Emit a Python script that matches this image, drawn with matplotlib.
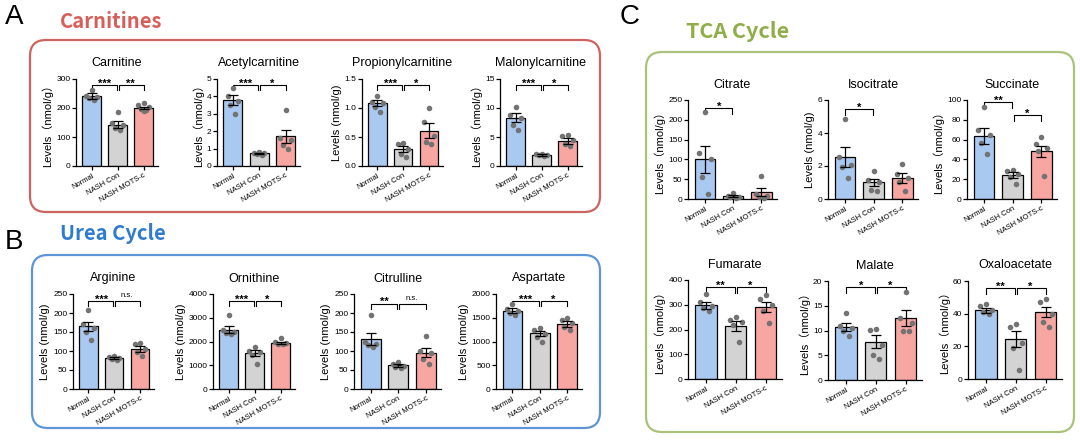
import matplotlib.pyplot as plt
from matplotlib.patches import FancyBboxPatch

plt.rcParams['font.family'] = ['Liberation Sans', 'Noto Sans CJK SC', 'DejaVu Sans']

W, H = 1080, 440

groups = ['Normal', 'NASH Con', 'NASH MOTS-c']
bar_colors = ['#a9c9f1', '#d3d3d3', '#f7a6a1']

# ---- Carnitines ----
carnitine_mean = [240, 143, 200]
carnitine_sem = [10, 11, 5]
carnitine_pts = [[262, 243, 238, 233, 228], [185, 147, 140, 130, 124], [216, 210, 204, 198, 194, 190]]

acetyl_mean = [3.8, 0.72, 1.7]
acetyl_sem = [0.27, 0.04, 0.38]
acetyl_pts = [[4.5, 4.0, 3.75, 3.5, 3.0], [0.8, 0.76, 0.72, 0.68, 0.63], [3.2, 1.6, 1.5, 1.2, 1.0]]

propionyl_mean = [1.08, 0.29, 0.61]
propionyl_sem = [0.05, 0.05, 0.13]
propionyl_pts = [[1.2, 1.1, 1.08, 1.02, 0.93], [0.4, 0.38, 0.3, 0.2, 0.15], [1.0, 0.75, 0.52, 0.42, 0.38]]

malonyl_mean = [8.3, 1.9, 4.3]
malonyl_sem = [0.8, 0.1, 0.5]
malonyl_pts = [[10.2, 8.8, 8.3, 7.0, 6.2], [2.1, 2.0, 1.9, 1.85, 1.75], [5.4, 5.2, 4.4, 3.8, 3.4]]

# ---- Urea cycle ----
arginine_mean = [165, 82, 105]
arginine_sem = [12, 2.5, 7]
arginine_pts = [[207, 172, 160, 150, 130], [88, 85, 82, 80, 77], [122, 118, 105, 98, 88]]

ornithine_mean = [2500, 1520, 1950]
ornithine_sem = [150, 120, 50]
ornithine_pts = [[3100, 2500, 2420, 2350, 2300], [1750, 1600, 1550, 1450, 1050], [2150, 2000, 1950, 1900, 1880]]

citrulline_mean = [132, 62, 96]
citrulline_sem = [16, 4, 12]
citrulline_pts = [[195, 125, 118, 115, 110], [72, 66, 60, 58, 55], [140, 100, 95, 80, 65]]

aspartate_mean = [1650, 1170, 1370]
aspartate_sem = [50, 60, 55]
aspartate_pts = [[1800, 1680, 1650, 1600, 1560], [1280, 1250, 1150, 1100, 1000], [1500, 1450, 1400, 1300, 1250]]

# ---- TCA cycle ----
citrate_mean = [100, 7, 17]
citrate_sem = [35, 3, 10]
citrate_pts = [[220, 115, 100, 55, 12], [15, 8, 6, 4, 3], [58, 12, 8, 5, 3]]

isocitrate_mean = [2.55, 1.0, 1.25]
isocitrate_sem = [0.6, 0.2, 0.3]
isocitrate_pts = [[4.85, 2.55, 2.05, 1.95, 1.25], [1.7, 1.15, 1.0, 0.55, 0.5], [2.1, 1.5, 1.3, 1.0, 0.5]]

succinate_mean = [64, 24, 48]
succinate_sem = [8, 3, 6]
succinate_pts = [[93, 70, 65, 57, 45], [29, 28, 25, 22, 15], [63, 56, 52, 48, 23]]

fumarate_mean = [298, 215, 290]
fumarate_sem = [15, 20, 20]
fumarate_pts = [[345, 310, 295, 285, 275], [250, 240, 230, 220, 150], [340, 325, 300, 275, 225]]

malate_mean = [10.8, 7.7, 12.5]
malate_sem = [0.8, 1.3, 1.6]
malate_pts = [[13.5, 11.0, 10.5, 10.0, 8.8], [10.3, 10.1, 7.0, 5.0, 4.2], [17.8, 12.5, 11.5, 10.0, 9.8]]

oxalo_mean = [42, 24.5, 41]
oxalo_sem = [1.5, 5, 3]
oxalo_pts = [[46, 44.5, 42, 41, 40], [33.5, 32, 22, 19, 5.5], [49, 47, 40, 35, 32]]

LBL = 'Levels (nmol/g)'
LBL_W = 'Levels（nmol/g）'

# title, mean, sem, points, y ticks, significance, ylabel, axes box in pixels (left, right, top, bottom)
panels = [
    ('Carnitine', carnitine_mean, carnitine_sem, carnitine_pts, [0, 100, 200, 300],
     [(0, 1, '***', 0.93), (1, 2, '**', 0.93)], LBL_W, (76, 158, 79, 166)),
    ('Acetylcarnitine', acetyl_mean, acetyl_sem, acetyl_pts, [0, 1, 2, 3, 4, 5],
     [(0, 1, '***', 0.93), (1, 2, '*', 0.93)], LBL_W, (217, 300, 79, 166)),
    ('Propionylcarnitine', propionyl_mean, propionyl_sem, propionyl_pts, [0.0, 0.5, 1.0, 1.5],
     [(0, 1, '***', 0.93), (1, 2, '*', 0.93)], LBL, (362, 443, 79, 166)),
    ('Malonylcarnitine', malonyl_mean, malonyl_sem, malonyl_pts, [0, 5, 10, 15],
     [(0, 1, '***', 0.93), (1, 2, '*', 0.93)], LBL_W, (500, 582, 79, 166)),
    ('Arginine', arginine_mean, arginine_sem, arginine_pts, [0, 50, 100, 150, 200, 250],
     [(0, 1, '***', 0.93), (1, 2, 'n.s.', 0.93)], LBL, (73, 154, 294, 389)),
    ('Ornithine', ornithine_mean, ornithine_sem, ornithine_pts, [0, 1000, 2000, 3000, 4000],
     [(0, 1, '***', 0.93), (1, 2, '*', 0.93)], LBL, (213, 295, 294, 389)),
    ('Citrulline', citrulline_mean, citrulline_sem, citrulline_pts, [0, 50, 100, 150, 200, 250],
     [(0, 1, '**', 0.9), (1, 2, 'n.s.', 0.9)], LBL, (354, 441, 294, 389)),
    ('Aspartate', aspartate_mean, aspartate_sem, aspartate_pts, [0, 500, 1000, 1500, 2000],
     [(0, 1, '***', 0.93), (1, 2, '*', 0.93)], LBL, (496, 582, 294, 389)),
    ('Citrate', citrate_mean, citrate_sem, citrate_pts, [0, 50, 100, 150, 200, 250],
     [(0, 1, '*', 0.92)], LBL_W, (688, 777, 100, 199)),
    ('Isocitrate', isocitrate_mean, isocitrate_sem, isocitrate_pts, [0, 2, 4, 6],
     [(0, 1, '*', 0.91)], LBL, (828, 918, 100, 199)),
    ('Succinate', succinate_mean, succinate_sem, succinate_pts, [0, 20, 40, 60, 80, 100],
     [(0, 1, '**', 0.98), (1, 2, '*', 0.85)], LBL_W, (967, 1057, 100, 199)),
    ('Fumarate', fumarate_mean, fumarate_sem, fumarate_pts, [0, 100, 200, 300, 400],
     [(0, 1, '**', 0.93), (1, 2, '*', 0.93)], LBL_W, (688, 782, 280, 379)),
    ('Malate', malate_mean, malate_sem, malate_pts, [0, 5, 10, 15, 20],
     [(0, 1, '*', 0.94), (1, 2, '*', 0.94)], LBL_W, (828, 922, 281, 380)),
    ('Oxaloacetate', oxalo_mean, oxalo_sem, oxalo_pts, [0, 20, 40, 60],
     [(0, 1, '**', 0.93), (1, 2, '*', 0.93)], LBL_W, (968, 1062, 281, 379)),
]

# horizontal spread of the dots inside a bar
dot_offsets = [0.0, -0.2, 0.2, -0.1, 0.1, 0.0]

fig = plt.figure(figsize=(W / 100, H / 100), dpi=100)

# background layer in pixel coordinates for the boxes and headings
bg = fig.add_axes([0, 0, 1, 1])
bg.set_xlim(0, W)
bg.set_ylim(H, 0)
bg.axis('off')

boxes = [(30, 40, 570, 172, '#cf6360'), (32, 255, 568, 173, '#5e95d8'), (646, 52, 428, 380, '#aac27c')]
for x0, y0, w, h, c in boxes:
    bg.add_patch(FancyBboxPatch((x0, y0), w, h, boxstyle='round,pad=0,rounding_size=16',
                                fill=False, ec=c, lw=1.6))

head_font = ['Noto Sans CJK SC', 'DejaVu Sans']
bg.text(14, 17, 'A', fontsize=20, ha='center', va='center')
bg.text(60, 21, 'Carnitines', fontsize=14.5, weight='bold', color='#d65f5a', va='center', family=head_font)
bg.text(14, 242, 'B', fontsize=20, ha='center', va='center')
bg.text(60, 234, 'Urea Cycle', fontsize=14.5, weight='bold', color='#2f7ccf', va='center', family=head_font)
bg.text(630, 17, 'C', fontsize=20, ha='center', va='center')
bg.text(686, 31, 'TCA Cycle', fontsize=15.5, weight='bold', color='#8fae48', va='center', family=head_font)

for title, mean, sem, pts, yt, sig, ylab, (l, r, t, b) in panels:
    ax = fig.add_axes([l / W, 1 - b / H, (r - l) / W, (b - t) / H])
    ymax = yt[-1]
    x = range(3)
    ax.bar(x, mean, width=0.72, color=bar_colors, edgecolor='black', linewidth=0.9, zorder=2)
    for i, vals in enumerate(pts):
        xs = [i + dot_offsets[k % len(dot_offsets)] for k in range(len(vals))]
        ax.plot(xs, vals, 'o', color='#737373', ms=4, mec='none', zorder=3, clip_on=False)
    ax.errorbar(x, mean, yerr=sem, fmt='none', ecolor='black', elinewidth=0.9,
                capsize=3.5, capthick=0.9, zorder=4)

    # significance brackets
    for i, j, txt, frac in sig:
        hgt = frac * ymax
        d = 0.06 * ymax
        xi = i + (0.04 if i == 1 else 0)
        xj = j - (0.04 if j == 1 else 0)
        ax.plot([xi, xi, xj, xj], [hgt - d, hgt, hgt, hgt - d], color='black', lw=0.8, clip_on=False)
        if txt == 'n.s.':
            ax.text((i + j) / 2, hgt + 0.02 * ymax, txt, ha='center', va='bottom', fontsize=5.5)
        else:
            ax.text((i + j) / 2, hgt - 0.04 * ymax, txt, ha='center', va='bottom',
                    fontsize=8, weight='bold')

    ax.set_xlim(-0.6, 2.55)
    ax.set_ylim(0, ymax)
    ax.set_yticks(yt)
    ax.set_xticks(list(x))
    ax.set_xticklabels(groups, rotation=30, ha='right', rotation_mode='anchor', fontsize=5.5)
    ax.tick_params(axis='y', direction='out', length=3, width=0.9, labelsize=6, pad=1)
    ax.tick_params(axis='x', direction='out', length=3, width=0.9, pad=1.5)
    for s in ['top', 'right']:
        ax.spines[s].set_visible(False)
    for s in ['left', 'bottom']:
        ax.spines[s].set_linewidth(0.9)
    ax.set_ylabel(ylab, fontsize=8, labelpad=2)
    ax.set_title(title, fontsize=9, pad=9)

plt.savefig('out.png', dpi=100)
